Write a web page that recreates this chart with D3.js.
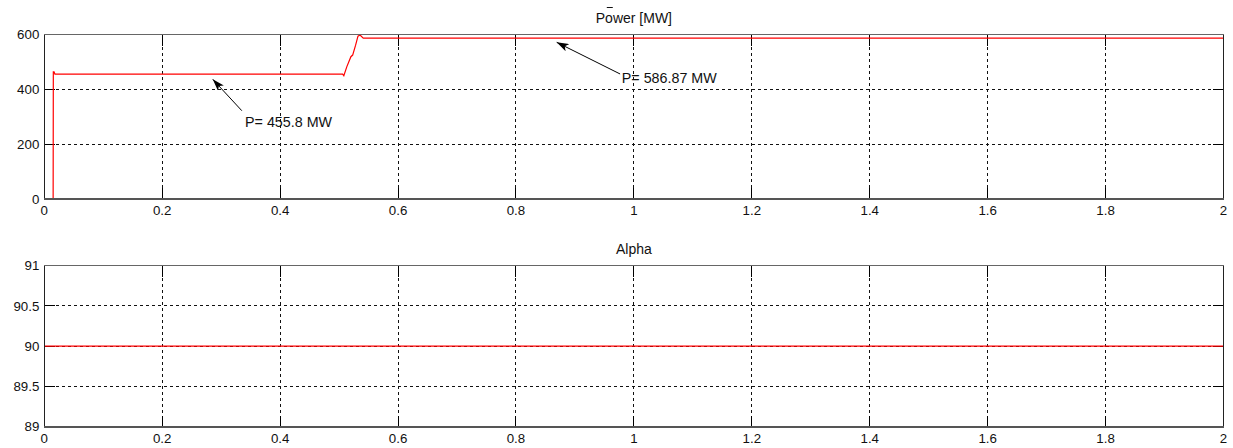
<!DOCTYPE html>
<html><head><meta charset="utf-8">
<script src="https://cdn.jsdelivr.net/npm/d3@7"></script>
<style>
html,body{margin:0;padding:0;background:#fff;}
svg{display:block;font-family:Arial,"Liberation Sans",sans-serif;}
</style></head>
<body>
<svg id="chart" width="1233" height="448"></svg>
<script>
// ---- data ----
const xTicks = [0, 0.2, 0.4, 0.6, 0.8, 1, 1.2, 1.4, 1.6, 1.8, 2];
const xTickLabels = ["0", "0.2", "0.4", "0.6", "0.8", "1", "1.2", "1.4", "1.6", "1.8", "2"];

const powerTitle = "Power [MW]";
const powerTicks = [0, 200, 400, 600];
const powerTickLabels = ["0", "200", "400", "600"];
const powerTime  = [0, 0.0150, 0.0153, 0.0165, 0.0180, 0.506, 0.508, 0.513, 0.520, 0.523, 0.528, 0.532, 0.5355, 0.541, 2];
const powerValue = [0, 0, 464, 464, 455.8, 455.8, 450, 482, 519, 525, 561, 594, 598, 586.87, 586.87];

const alphaTitle = "Alpha";
const alphaTicks = [89, 89.5, 90, 90.5, 91];
const alphaTickLabels = ["89", "89.5", "90", "90.5", "91"];
const alphaTime  = [0, 2];
const alphaValue = [90, 90];

// annotations: arrow head (t,v), arrow tail (t,v), text anchor (t,v)
const annotLabels = ["P= 455.8 MW", "P= 586.87 MW"];
const annotHeadT = [0.2857, 0.869];
const annotHeadV = [436.6, 571.5];
const annotTailT = [0.335, 0.9766];
const annotTailV = [322, 456];
const annotTextT = [0.3405, 0.9795];
const annotTextV = [263.7, 424];

// ---- layout ----
const svg = d3.select("#chart");
const left = 44.3, right = 1223.5;
const x = d3.scaleLinear().domain([0, 2]).range([left, right]);

const defs = svg.append("defs");
defs.append("marker").attr("id", "ah").attr("viewBox", "0 0 12 8")
  .attr("refX", 12).attr("refY", 4).attr("markerWidth", 12).attr("markerHeight", 8)
  .attr("markerUnits", "userSpaceOnUse").attr("orient", "auto")
  .append("path").attr("d", "M0,0 L12,4 L0,8 L3,4 Z").attr("fill", "#000");

function panel(opts) {
  const g = svg.append("g");
  const y = d3.scaleLinear().domain(opts.domain).range([opts.bottom, opts.top]);
  const tickLen = 11;
  const gx = xTicks.filter(d => d > 0 && d < 2);
  const gy = opts.ticks.filter(d => d > opts.domain[0] && d < opts.domain[1]);
  // grid
  g.selectAll(".vg").data(gx).join("line")
    .attr("x1", d => x(d)).attr("x2", d => x(d))
    .attr("y1", opts.top).attr("y2", opts.bottom)
    .attr("stroke", "#111").attr("stroke-width", 1).attr("stroke-dasharray", "3,3")
    .attr("shape-rendering", "crispEdges");
  g.selectAll(".hg").data(gy).join("line")
    .attr("x1", left).attr("x2", right)
    .attr("y1", d => y(d)).attr("y2", d => y(d))
    .attr("stroke", "#111").attr("stroke-width", 1).attr("stroke-dasharray", "3,3")
    .attr("shape-rendering", "crispEdges");
  // ticks (inward, all sides)
  g.selectAll(".tb").data(gx).join("line")
    .attr("x1", d => x(d)).attr("x2", d => x(d))
    .attr("y1", opts.bottom).attr("y2", opts.bottom - tickLen)
    .attr("stroke", "#000").attr("shape-rendering", "crispEdges");
  g.selectAll(".tt").data(gx).join("line")
    .attr("x1", d => x(d)).attr("x2", d => x(d))
    .attr("y1", opts.top).attr("y2", opts.top + tickLen)
    .attr("stroke", "#000").attr("shape-rendering", "crispEdges");
  g.selectAll(".tl").data(gy).join("line")
    .attr("x1", left).attr("x2", left + tickLen)
    .attr("y1", d => y(d)).attr("y2", d => y(d))
    .attr("stroke", "#000").attr("shape-rendering", "crispEdges");
  g.selectAll(".tr").data(gy).join("line")
    .attr("x1", right).attr("x2", right - tickLen)
    .attr("y1", d => y(d)).attr("y2", d => y(d))
    .attr("stroke", "#000").attr("shape-rendering", "crispEdges");
  // data line
  const pts = opts.t.map((t, i) => [t, opts.v[i]]);
  g.append("path").datum(pts)
    .attr("d", d3.line().x(d => x(d[0])).y(d => y(d[1])))
    .attr("fill", "none").attr("stroke", "#ff0000").attr("stroke-width", 1.2);
  // box
  g.append("rect").attr("x", left).attr("y", opts.top)
    .attr("width", right - left).attr("height", opts.bottom - opts.top)
    .attr("fill", "none").attr("stroke", "#222").attr("stroke-width", 1)
    .attr("shape-rendering", "crispEdges");
  g.append("line").attr("x1", left).attr("x2", right)
    .attr("y1", opts.top).attr("y2", opts.top)
    .attr("stroke", "#666").attr("stroke-width", 1).attr("shape-rendering", "crispEdges");
  g.append("line").attr("x1", left).attr("x2", right)
    .attr("y1", opts.bottom).attr("y2", opts.bottom)
    .attr("stroke", "#555").attr("stroke-width", 1.6).attr("shape-rendering", "crispEdges");
  // tick labels
  g.selectAll(".xl").data(xTicks).join("text")
    .attr("x", d => x(d)).attr("y", opts.bottom + 16)
    .attr("text-anchor", "middle").attr("font-size", 13.3).attr("fill", "#111")
    .text((d, i) => xTickLabels[i]);
  g.selectAll(".yl").data(opts.ticks).join("text")
    .attr("x", left - 5).attr("y", d => y(d) + 4.7)
    .attr("text-anchor", "end").attr("font-size", 13.3).attr("fill", "#111")
    .text((d, i) => opts.tickLabels[i]);
  // title
  const title = g.append("text").attr("x", (left + right) / 2).attr("y", opts.top - 11.5)
    .attr("text-anchor", "middle").attr("font-size", 14).attr("fill", "#111")
    .text(opts.title);
  return {g, y, title};
}

const p1 = panel({top: 34.5, bottom: 199, domain: [0, 600], ticks: powerTicks,
  tickLabels: powerTickLabels, t: powerTime, v: powerValue, title: powerTitle});
// small overbar above the title (as in the original figure)
const tb = p1.title.node().getBBox();
svg.append("line").attr("x1", tb.x + 11).attr("x2", tb.x + 17)
  .attr("y1", 7.5).attr("y2", 7.5).attr("stroke", "#111").attr("stroke-width", 1);

annotLabels.forEach((lab, i) => {
  svg.append("line")
    .attr("x1", x(annotTailT[i])).attr("y1", p1.y(annotTailV[i]))
    .attr("x2", x(annotHeadT[i])).attr("y2", p1.y(annotHeadV[i]))
    .attr("stroke", "#000").attr("stroke-width", 1).attr("marker-end", "url(#ah)");
  svg.append("text").attr("x", x(annotTextT[i])).attr("y", p1.y(annotTextV[i]))
    .attr("font-size", 14.3).attr("fill", "#111").text(lab);
});

const p2 = panel({top: 265.7, bottom: 426.7, domain: [89, 91], ticks: alphaTicks,
  tickLabels: alphaTickLabels, t: alphaTime, v: alphaValue, title: alphaTitle});
</script>
</body></html>
